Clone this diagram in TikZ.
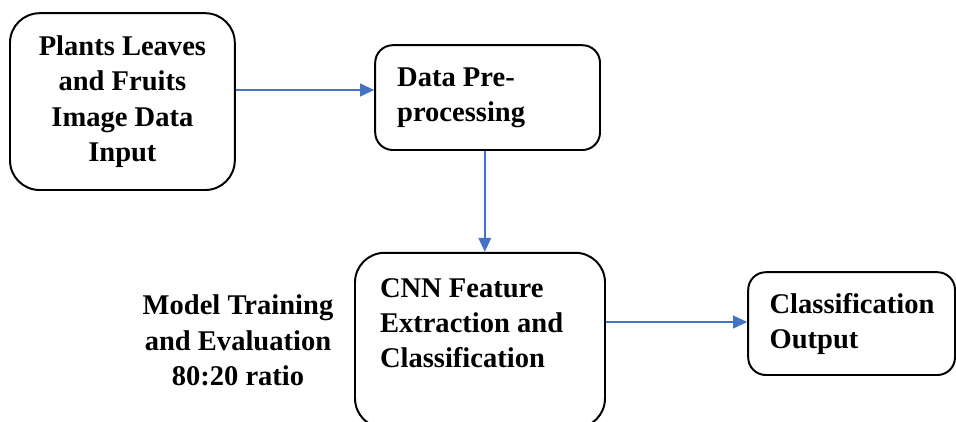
\documentclass[tikz,border=0pt]{standalone}
\usepackage{fontspec}
\setmainfont{Liberation Serif}
\usetikzlibrary{arrows.meta}

\definecolor{flowblue}{RGB}{68,114,196}

\begin{document}
\begin{tikzpicture}[
  bigbox/.style={rectangle, draw, line width=1.4pt, rounded corners=0.74cm,
    inner sep=0pt, font=\fontsize{20.3}{25}\selectfont\bfseries},
  smallbox/.style={rectangle, draw, line width=1.4pt, rounded corners=0.44cm,
    inner sep=0pt, font=\fontsize{20.3}{25}\selectfont\bfseries},
  lbl/.style={align=center, font=\fontsize{20.3}{25}\selectfont\bfseries},
  arr/.style={-{Triangle[length=10pt,width=9pt]}, line width=1.4pt, draw=flowblue},
]
\useasboundingbox (0,0) rectangle (23.9,-10.525);

% ============================================================
% INPUT AND PRE-PROCESSING
% ============================================================
\node[bigbox, minimum width=5.62cm, minimum height=4.42cm, align=center]
  (input) at (3.06,-2.54) {Plants Leaves\\and Fruits\\Image Data\\Input};
\node[smallbox, minimum width=5.62cm, minimum height=2.62cm,
  text width=4.52cm, align=flush left] (prep) at (12.19,-2.44) {Data Pre-\\processing};

\draw[arr] (input.east |- 0,-2.25) -- (prep.west |- 0,-2.25);

% ============================================================
% CNN STAGE
% ============================================================
\node[bigbox, minimum width=6.25cm, minimum height=4.38cm,
  text width=5.0cm, align=flush left] (cnn) at (12.0,-8.51)
  {CNN Feature\\Extraction and\\Classification\\\mbox{}};
\node[lbl] (train) at (5.95,-8.51) {Model Training\\and Evaluation\\80:20 ratio};

\draw[arr] (prep.south -| 12.12,0) -- (cnn.north -| 12.12,0);

% ============================================================
% OUTPUT
% ============================================================
\node[smallbox, minimum width=5.17cm, minimum height=2.57cm,
  text width=4.1cm, align=flush left] (out) at (21.29,-8.09) {Classification\\Output};

\draw[arr] (cnn.east |- 0,-8.05) -- (out.west |- 0,-8.05);

\end{tikzpicture}
\end{document}
